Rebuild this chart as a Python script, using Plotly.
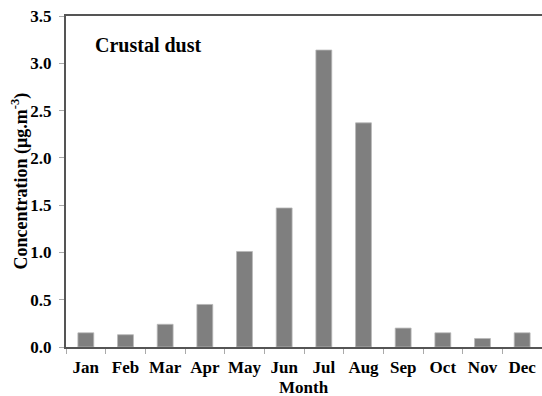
import plotly.graph_objects as go

months = ["Jan", "Feb", "Mar", "Apr", "May", "Jun", "Jul", "Aug", "Sep", "Oct", "Nov", "Dec"]
concentration = [0.15, 0.13, 0.24, 0.45, 1.01, 1.47, 3.14, 2.37, 0.20, 0.15, 0.09, 0.15]
y_ticks = [0.0, 0.5, 1.0, 1.5, 2.0, 2.5, 3.0, 3.5]
y_tick_labels = ["0.0", "0.5", "1.0", "1.5", "2.0", "2.5", "3.0", "3.5"]

font_family = "Liberation Serif, Times New Roman, serif"

W, H = 542, 396
L, R, T, B = 66, 0, 16, 49
pw, ph = W - L - R, H - T - B

fig = go.Figure()
fig.add_trace(go.Bar(
    x=months, y=concentration, width=0.4,
    marker=dict(color="#7f7f7f", line=dict(color="#b8b8b8", width=0.8)),
))

fig.update_layout(
    width=W, height=H,
    margin=dict(l=L, r=R, t=T, b=B),
    paper_bgcolor="white", plot_bgcolor="white",
    showlegend=False,
    font=dict(family=font_family, color="black"),
    xaxis=dict(
        type="category", tickson="boundaries",
        ticks="outside", ticklen=5, tickcolor="#aaaaaa", tickwidth=1,
        showline=True, linecolor="#555555", linewidth=2, mirror=True,
        showgrid=False, automargin=False, tickangle=0,
        ticklabelstandoff=4,
        tickfont=dict(family=font_family, size=17, color="black", weight="bold"),
        range=[-0.5, 11.5],
    ),
    yaxis=dict(
        range=[0, 3.5], tickvals=y_ticks, ticktext=y_tick_labels,
        ticks="outside", ticklen=5, tickcolor="#aaaaaa", tickwidth=1,
        showline=True, linecolor="#555555", linewidth=2,
        showgrid=False, zeroline=False, automargin=False,
        ticklabelstandoff=4,
        tickfont=dict(family=font_family, size=17, color="black", weight="bold"),
    ),
    annotations=[
        dict(text="<b>Crustal dust</b>", xref="paper", yref="paper",
             x=(93 - L) / pw, y=1 - (45 - T) / ph, xanchor="left", yanchor="middle",
             showarrow=False, font=dict(family=font_family, size=20, color="black")),
        dict(text="<b>Month</b>", xref="paper", yref="paper",
             x=0.5, y=-(387 - (H - B)) / ph, xanchor="center", yanchor="middle",
             showarrow=False, font=dict(family=font_family, size=17, color="black")),
        dict(text="<b>Concentration (μg.m<sup>-3</sup>)</b>", xref="paper", yref="paper",
             x=-(L - 20) / pw, y=0.5, xanchor="center", yanchor="middle", textangle=-90,
             showarrow=False, font=dict(family=font_family, size=18, color="black")),
    ],
)

fig.write_html(
    "out.html",
    config={"displayModeBar": False},
    post_script="document.body.style.margin='0px'; document.body.style.overflow='hidden';",
)
